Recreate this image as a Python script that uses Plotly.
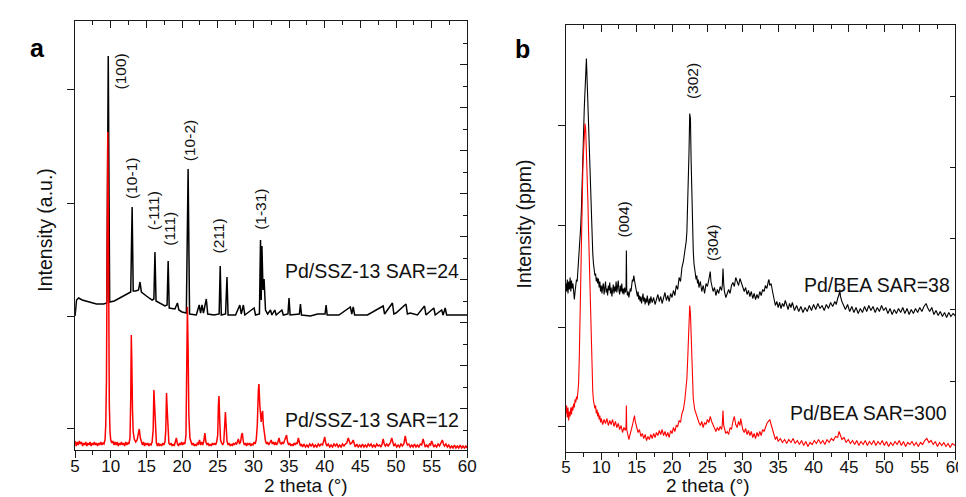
import plotly.graph_objects as go

W, H = 966, 497

# ---------------- Panel a : Pd/SSZ-13 ----------------
ssz24 = [(5.0,134),(5.2,150),(5.5,152),(6.0,150),(7.0,148),(8.0,146),(9.0,146),(9.45,147),(9.65,394),(9.85,148),
 (10.5,149),(11.0,151),(12.0,155),(12.8,158),(13.0,243),(13.15,159),(13.5,159),(13.9,160),(14.1,168),(14.3,158),
 (15.0,154),(15.8,150),(16.05,151),(16.2,198),(16.35,149),(17.0,146),(17.6,144),(17.9,145),(18.05,189),(18.2,142),
 (19.0,141),(19.35,147),(19.55,140),(20.0,138),(20.6,137),(20.85,281),(21.05,136),(22.0,135),(22.4,145),(22.6,137),
 (22.8,145),(23.0,137),(23.4,151),(23.6,136),(24.5,135),(25.2,136),(25.35,184),(25.5,135),(26.1,136),(26.3,173),
 (26.45,135),(27.5,135),(28.1,145),(28.3,136),(28.6,145),(28.8,135),(30.1,142),(30.3,135),(30.85,136),(31.0,210),
 (31.1,150),(31.2,204),(31.35,160),(31.5,171),(31.7,140),(32.0,136),(32.4,140),(32.6,135),(33.0,140),(33.2,135),
 (34.0,140),(34.2,135),(34.85,136),(35.0,152),(35.15,135),(36.45,136),(36.6,146),(36.75,135),(38.0,134),(39.0,136),
 (40.05,136),(40.2,145),(40.35,135),(42.0,135),(43.6,143),(43.8,136),(44.0,143),(44.2,135),(46.0,135),(48.2,144),
 (48.4,136),(49.5,147),(49.7,136),(50.0,137),(51.4,146),(51.6,136),(52.0,137),(53.0,135),(54.0,144),(54.2,135),
 (55.3,142),(55.5,135),(56.4,140),(56.6,135),(56.9,142),(57.1,135),(58.0,135),(60.0,135)]

ssz12 = [(5.0,9),(5.15,4),(5.3,8),(5.45,5),(5.6,9),(5.75,6),(5.9,8),(6.05,4),(6.2,7),(6.35,5),(6.5,8),(6.65,4),(6.8,7),
 (6.95,5),(7.1,8),(7.25,4),(7.4,7),(7.55,5),(7.7,8),(7.85,5),(8.0,7),(8.15,4),(8.3,7),(8.45,5),(8.6,8),(8.75,5),(8.9,7),
 (9.05,6),(9.2,10),(9.3,25),(9.4,70),(9.5,180),(9.58,318),(9.65,250),(9.72,120),(9.8,45),(9.9,18),(10.0,10),(10.15,7),
 (10.3,9),(10.45,5),(10.6,8),(10.75,5),(10.9,8),(11.05,4),(11.2,7),(11.35,5),(11.5,8),(11.65,5),(11.8,7),(11.95,4),
 (12.1,8),(12.25,5),(12.4,7),(12.55,6),(12.7,12),(12.8,50),(12.88,115),(12.95,90),(13.05,40),(13.15,18),(13.3,11),
 (13.5,8),(13.7,10),(13.85,15),(14.0,21),(14.15,12),(14.3,7),(14.45,5),(14.6,8),(14.75,4),(14.9,7),(15.05,5),(15.2,7),
 (15.35,4),(15.5,6),(15.65,5),(15.8,8),(15.95,20),(16.05,60),(16.15,45),(16.25,15),(16.4,7),(16.55,4),(16.7,7),
 (16.85,4),(17.0,6),(17.15,4),(17.3,7),(17.45,5),(17.6,8),(17.72,20),(17.82,57),(17.92,40),(18.02,14),(18.15,7),
 (18.3,5),(18.45,7),(18.6,4),(18.75,6),(18.9,4),(19.05,7),(19.2,12),(19.35,6),(19.5,4),(19.65,7),(19.8,5),(19.95,8),
 (20.1,5),(20.25,7),(20.4,6),(20.55,15),(20.65,70),(20.75,143),(20.85,100),(20.95,35),(21.1,12),(21.25,7),(21.4,5),
 (21.55,7),(21.7,4),(21.85,6),(22.0,4),(22.15,7),(22.3,6),(22.45,10),(22.6,5),(22.75,8),(22.9,5),(23.05,9),(23.2,17),
 (23.35,8),(23.5,5),(23.65,7),(23.8,4),(23.95,6),(24.1,4),(24.25,7),(24.4,5),(24.55,7),(24.7,5),(24.85,8),(25.0,15),
 (25.1,45),(25.18,54),(25.28,30),(25.4,10),(25.55,7),(25.7,5),(25.85,8),(25.98,20),(26.08,38),(26.18,25),(26.3,9),
 (26.45,5),(26.6,7),(26.75,4),(26.9,6),(27.05,4),(27.2,7),(27.35,5),(27.5,7),(27.65,6),(27.8,9),(27.9,11),(28.05,6),
 (28.2,8),(28.35,15),(28.45,17),(28.6,8),(28.75,5),(28.9,7),(29.05,4),(29.2,7),(29.35,5),(29.5,7),(29.65,4),(29.8,6),
 (29.95,5),(30.1,8),(30.25,6),(30.4,10),(30.55,25),(30.7,60),(30.78,66),(30.9,45),(31.0,30),(31.1,28),(31.2,36),
 (31.3,39),(31.4,25),(31.55,14),(31.7,9),(31.85,6),(32.0,8),(32.15,5),(32.3,7),(32.5,10),(32.65,6),(32.8,8),(32.95,5),
 (33.1,8),(33.25,5),(33.4,7),(33.6,12),(33.75,7),(33.9,6),(34.05,8),(34.2,6),(34.35,9),(34.5,12),(34.65,15),(34.8,8),
 (34.95,5),(35.1,7),(35.25,4),(35.4,6),(35.55,4),(35.7,7),(35.85,5),(36.0,7),(36.15,6),(36.3,12),(36.45,7),(36.6,4),
 (36.75,6),(36.9,3),(37.1,6),(37.3,3),(37.5,5),(37.7,3),(37.9,6),(38.1,4),(38.3,6),(38.5,3),(38.7,5),(38.9,3),(39.1,6),
 (39.3,4),(39.5,6),(39.7,5),(39.9,10),(40.0,13),(40.15,7),(40.3,4),(40.5,6),(40.7,3),(40.9,5),(41.1,3),(41.3,6),(41.5,4),
 (41.7,6),(41.9,3),(42.1,5),(42.3,3),(42.5,6),(42.7,4),(42.9,6),(43.1,7),(43.3,12),(43.45,8),(43.6,6),(43.8,7),(44.0,10),
 (44.15,6),(44.3,3),(44.5,6),(44.7,3),(44.9,5),(45.1,3),(45.3,6),(45.5,3),(45.7,5),(45.9,3),(46.1,6),(46.3,4),(46.5,6),
 (46.7,3),(46.9,5),(47.1,3),(47.3,6),(47.5,4),(47.7,5),(47.9,3),(48.05,6),(48.2,11),(48.35,6),(48.5,4),(48.7,6),(48.9,4),
 (49.1,6),(49.25,8),(49.4,12),(49.55,7),(49.7,4),(49.9,6),(50.1,3),(50.3,5),(50.5,3),(50.7,6),(50.9,4),(51.1,6),
 (51.3,14),(51.45,8),(51.6,5),(51.8,6),(52.0,3),(52.2,5),(52.4,3),(52.6,6),(52.8,3),(53.0,5),(53.2,3),(53.4,6),(53.6,5),
 (53.8,11),(53.95,6),(54.1,3),(54.3,5),(54.5,3),(54.7,6),(54.85,5),(55.0,9),(55.15,5),(55.3,3),(55.5,5),(55.7,3),
 (55.9,6),(56.1,4),(56.3,7),(56.5,10),(56.65,6),(56.8,4),(57.0,6),(57.2,3),(57.4,5),(57.6,2),(57.8,4),(58.0,2),(58.2,5),
 (58.4,2),(58.6,4),(58.8,2),(59.0,5),(59.2,2),(59.4,4),(59.6,2),(59.8,4),(60.0,2)]

ssz_peak_labels = ["(100)", "(10-1)", "(-111)", "(111)", "(10-2)", "(211)", "(1-31)"]
ssz_peak_label_x = [11.5, 12.97, 16.1, 18.27, 21.0, 25.25, 31.05]
ssz_peak_label_y = [379, 272, 239, 221, 309, 214, 241]

# ---------------- Panel b : Pd/BEA ----------------
bea38 = [(5.0,168),(5.1,160),(5.2,172),(5.3,158),(5.4,170),(5.5,162),(5.6,174),(5.7,160),(5.8,171),(5.9,163),(6.0,168),
 (6.1,157),(6.2,152),(6.3,160),(6.4,166),(6.5,172),(6.6,170),(6.7,180),(6.8,188),(6.9,200),(7.0,213),(7.1,225),(7.2,243),
 (7.3,262),(7.4,290),(7.5,318),(7.6,343),(7.7,368),(7.8,384),(7.9,393),(8.0,372),(8.1,350),(8.2,322),(8.3,296),(8.4,272),
 (8.5,250),(8.6,228),(8.7,210),(8.8,198),(8.9,188),(9.0,181),(9.1,176),(9.2,178),(9.3,170),(9.4,174),(9.5,168),(9.6,173),
 (9.7,164),(9.8,170),(9.9,160),(10.0,166),(10.1,158),(10.2,165),(10.3,168),(10.4,157),(10.5,164),(10.6,170),(10.7,159),
 (10.8,163),(10.9,156),(11.0,166),(11.1,161),(11.2,169),(11.3,158),(11.4,164),(11.5,155),(11.6,162),(11.7,167),(11.8,158),
 (11.9,165),(12.0,160),(12.1,170),(12.2,159),(12.3,166),(12.4,171),(12.5,161),(12.6,157),(12.7,166),(12.8,160),(12.9,168),
 (13.0,158),(13.1,163),(13.2,157),(13.3,164),(13.4,159),(13.5,163),(13.55,201),(13.6,162),(13.7,156),(13.8,160),(13.9,154),
 (14.0,158),(14.1,163),(14.2,160),(14.3,168),(14.4,172),(14.5,170),(14.6,176),(14.7,171),(14.8,166),(14.9,162),(15.0,158),
 (15.1,155),(15.2,160),(15.3,152),(15.4,156),(15.5,150),(15.6,155),(15.7,148),(15.8,153),(15.9,158),(16.0,150),(16.1,154),
 (16.2,147),(16.3,153),(16.4,149),(16.5,156),(16.6,150),(16.7,146),(16.8,153),(16.9,148),(17.0,155),(17.2,149),(17.4,154),
 (17.6,147),(17.8,152),(18.0,157),(18.2,150),(18.4,155),(18.6,148),(18.8,154),(19.0,159),(19.2,151),(19.4,156),(19.6,150),
 (19.8,158),(20.0,154),(20.2,161),(20.4,156),(20.6,166),(20.8,162),(21.0,174),(21.2,170),(21.4,184),(21.6,190),(21.8,198),
 (22.0,210),(22.1,220),(22.2,240),(22.3,262),(22.4,300),(22.5,338),(22.6,333),(22.7,290),(22.8,250),(22.9,220),(23.0,200),
 (23.1,188),(23.2,182),(23.3,176),(23.4,172),(23.5,176),(23.6,168),(23.7,172),(23.8,164),(24.0,170),(24.2,160),(24.4,166),
 (24.6,158),(24.8,168),(25.0,165),(25.2,172),(25.4,180),(25.5,170),(25.6,166),(25.8,160),(26.0,164),(26.2,156),(26.4,162),
 (26.6,158),(26.8,165),(27.0,161),(27.1,166),(27.2,183),(27.3,168),(27.4,160),(27.6,154),(27.8,158),(28.0,162),(28.2,158),
 (28.4,166),(28.6,169),(28.8,165),(29.0,174),(29.2,170),(29.4,166),(29.6,173),(29.8,168),(30.0,163),(30.2,160),(30.4,164),
 (30.6,157),(30.8,161),(31.0,155),(31.2,160),(31.4,153),(31.6,158),(31.8,152),(32.0,157),(32.2,153),(32.4,160),(32.6,156),
 (32.8,162),(33.0,160),(33.2,166),(33.4,163),(33.6,170),(33.7,172),(33.8,166),(34.0,168),(34.2,160),(34.4,152),(34.6,146),
 (34.8,150),(35.0,144),(35.2,149),(35.4,143),(35.6,148),(35.8,145),(36.0,151),(36.2,146),(36.4,142),(36.6,148),(36.8,144),
 (37.0,149),(37.3,141),(37.6,146),(37.9,140),(38.2,145),(38.5,139),(38.8,144),(39.1,140),(39.4,146),(39.7,141),(40.0,147),
 (40.3,142),(40.6,148),(40.9,143),(41.2,146),(41.5,141),(41.8,147),(42.1,143),(42.4,149),(42.7,145),(43.0,150),(43.2,147),
 (43.4,153),(43.6,157),(43.7,162),(43.8,155),(44.0,150),(44.2,146),(44.5,142),(44.8,147),(45.1,140),(45.4,145),(45.7,139),
 (46.0,144),(46.3,138),(46.6,143),(46.9,139),(47.2,145),(47.5,140),(47.8,146),(48.1,141),(48.4,145),(48.7,139),(49.0,144),
 (49.3,140),(49.6,146),(49.9,141),(50.2,144),(50.5,138),(50.8,143),(51.1,137),(51.4,142),(51.7,138),(52.0,143),(52.3,139),
 (52.6,144),(52.9,138),(53.2,143),(53.5,137),(53.8,142),(54.1,138),(54.4,143),(54.7,139),(55.0,144),(55.3,140),(55.6,145),
 (55.9,148),(56.1,144),(56.4,140),(56.7,144),(57.0,137),(57.3,141),(57.6,136),(57.9,140),(58.2,135),(58.5,139),(58.8,134),
 (59.1,139),(59.4,135),(59.7,138),(60.0,136)]

bea300 = [(5.0,38),(5.1,46),(5.2,34),(5.3,44),(5.4,31),(5.5,40),(5.6,35),(5.7,44),(5.8,37),(5.9,45),(6.0,41),(6.1,48),
 (6.2,44),(6.3,52),(6.4,49),(6.5,55),(6.6,52),(6.7,60),(6.8,68),(6.9,95),(7.0,140),(7.1,190),(7.2,225),(7.3,255),(7.4,283),
 (7.5,300),(7.6,318),(7.7,328),(7.8,322),(7.9,303),(8.0,280),(8.1,253),(8.2,222),(8.3,193),(8.4,158),(8.5,123),(8.6,95),
 (8.7,73),(8.8,60),(8.9,51),(9.0,47),(9.1,43),(9.2,46),(9.3,38),(9.4,42),(9.5,35),(9.6,39),(9.7,32),(9.8,36),(9.9,29),
 (10.0,33),(10.2,27),(10.4,32),(10.6,28),(10.8,33),(11.0,26),(11.2,31),(11.4,27),(11.6,32),(11.8,25),(12.0,30),(12.2,24),
 (12.4,28),(12.6,22),(12.8,26),(13.0,19),(13.2,24),(13.4,21),(13.5,25),(13.55,46),(13.6,22),(13.7,18),(13.8,14),(13.9,12),
 (14.0,15),(14.2,20),(14.4,26),(14.6,33),(14.7,36),(14.8,30),(15.0,24),(15.2,19),(15.4,22),(15.6,15),(15.8,18),(16.0,13),
 (16.2,17),(16.4,11),(16.6,15),(16.8,12),(17.0,17),(17.2,13),(17.4,18),(17.6,14),(17.8,19),(18.0,16),(18.2,21),(18.4,17),
 (18.6,22),(18.8,16),(19.0,20),(19.2,15),(19.4,19),(19.6,14),(19.8,21),(20.0,18),(20.2,24),(20.4,20),(20.6,26),(20.8,25),
 (21.0,31),(21.2,29),(21.4,38),(21.6,42),(21.8,51),(22.0,62),(22.1,73),(22.2,90),(22.3,113),(22.4,135),(22.5,146),
 (22.6,138),(22.7,110),(22.8,83),(22.9,66),(23.0,53),(23.2,42),(23.4,37),(23.6,33),(23.8,29),(24.0,26),(24.2,30),(24.4,24),
 (24.6,29),(24.8,27),(25.0,32),(25.2,29),(25.4,35),(25.6,30),(25.8,26),(26.0,22),(26.2,20),(26.4,24),(26.6,21),(26.8,25),
 (27.0,22),(27.1,27),(27.2,41),(27.3,26),(27.4,22),(27.6,18),(27.8,20),(28.0,17),(28.2,24),(28.4,22),(28.6,30),(28.8,35),
 (29.0,27),(29.2,24),(29.4,30),(29.6,26),(29.7,33),(29.8,28),(30.0,22),(30.2,19),(30.4,23),(30.6,17),(30.8,21),(31.0,16),
 (31.2,20),(31.4,14),(31.6,18),(31.8,13),(32.0,19),(32.2,15),(32.4,20),(32.6,16),(32.8,22),(33.0,20),(33.2,25),(33.4,28),
 (33.6,30),(33.8,32),(34.0,27),(34.2,21),(34.4,15),(34.6,12),(34.8,15),(35.0,10),(35.3,13),(35.6,9),(35.9,12),(36.2,8),
 (36.5,12),(36.8,9),(37.1,13),(37.4,8),(37.7,11),(38.0,7),(38.3,11),(38.6,6),(38.9,10),(39.2,5),(39.5,9),(39.8,7),(40.1,11),
 (40.4,8),(40.7,12),(41.0,8),(41.3,11),(41.6,7),(41.9,12),(42.2,9),(42.5,13),(42.8,11),(43.1,15),(43.4,14),(43.6,20),
 (43.8,16),(44.0,12),(44.3,14),(44.6,9),(44.9,12),(45.2,8),(45.5,11),(45.8,7),(46.1,11),(46.4,6),(46.7,10),(47.0,7),
 (47.3,11),(47.6,6),(47.9,10),(48.2,7),(48.5,11),(48.8,6),(49.1,10),(49.4,7),(49.7,11),(50.0,6),(50.3,10),(50.6,5),(50.9,9),
 (51.2,6),(51.5,10),(51.8,7),(52.1,11),(52.4,6),(52.7,10),(53.0,5),(53.3,9),(53.6,7),(53.9,10),(54.2,6),(54.5,9),(54.8,5),
 (55.1,9),(55.4,7),(55.7,11),(56.0,13),(56.3,9),(56.6,11),(56.9,7),(57.2,10),(57.5,5),(57.8,9),(58.1,6),(58.4,9),(58.7,5),
 (59.0,8),(59.3,4),(59.6,8),(60.0,6)]

bea_peak_labels = ["(004)", "(302)", "(304)"]
bea_peak_label_x = [13.2, 22.9, 25.7]
bea_peak_label_y = [232, 370, 209]

x_ticks = [5, 10, 15, 20, 25, 30, 35, 40, 45, 50, 55, 60]
series_names = ["Pd/SSZ-13 SAR=24", "Pd/SSZ-13 SAR=12", "Pd/BEA SAR=38", "Pd/BEA SAR=300"]

FONT = "Arial, Liberation Sans, sans-serif"
AX = "#1a1a1a"

def xs(p): return [a for a, b in p]
def ys(p): return [b for a, b in p]

fig = go.Figure()
# panel a
fig.add_trace(go.Scatter(x=xs(ssz24), y=ys(ssz24), mode="lines", line=dict(color="#000000", width=1.5),
                         xaxis="x", yaxis="y", showlegend=False))
fig.add_trace(go.Scatter(x=xs(ssz12), y=ys(ssz12), mode="lines", line=dict(color="#ff0000", width=1.5),
                         xaxis="x", yaxis="y", showlegend=False))
# panel b
fig.add_trace(go.Scatter(x=xs(bea38), y=ys(bea38), mode="lines", line=dict(color="#000000", width=1.1),
                         xaxis="x3", yaxis="y3", showlegend=False))
fig.add_trace(go.Scatter(x=xs(bea300), y=ys(bea300), mode="lines", line=dict(color="#ff0000", width=1.1),
                         xaxis="x3", yaxis="y3", showlegend=False))
# empty traces so that the extra frame / tick axes are drawn
for xa, ya in [("x2", "y2"), ("x4", "y4"), ("x5", "y"), ("x6", "y3")]:
    fig.add_trace(go.Scatter(x=[None], y=[None], mode="lines", xaxis=xa, yaxis=ya, showlegend=False, hoverinfo="skip"))

xa_dom = [63/W, 461/W]
ya_dom = [1-442/H, 1-13.3/H]
xb_dom = [561/W, 956/W]
yb_dom = [1-443.5/H, 1-17.3/H]
ya_rng = [0, 428.7]
yb_rng = [0, 426.2]

def label_x(dom, anchor):
    # bottom axis carrying the tick labels only
    return dict(domain=dom, range=[5, 60], anchor=anchor, showgrid=False, zeroline=False,
                showline=True, linecolor=AX, linewidth=1.3, ticks="", tickvals=x_ticks,
                tickfont=dict(family=FONT, size=17, color="#111"), ticklabelstandoff=0)

def tick_x(dom, over, anchor):
    # bottom axis carrying the outward ticks only
    return dict(domain=dom, range=[5, 60], overlaying=over, anchor=anchor, side="bottom", showgrid=False,
                zeroline=False, showline=False, ticks="outside", ticklen=7, tickwidth=1.3, tickcolor=AX,
                tickvals=x_ticks, showticklabels=False,
                minor=dict(ticks="outside", ticklen=4, tickwidth=1.2, tickcolor=AX, dtick=2.5, tick0=5, showgrid=False))

def top_x(dom, over, anchor):
    return dict(domain=dom, range=[5, 60], overlaying=over, anchor=anchor, side="top", showgrid=False,
                zeroline=False, showline=True, linecolor=AX, linewidth=1.3, ticks="inside", ticklen=7,
                tickwidth=1.3, tickcolor=AX, tickvals=x_ticks, showticklabels=False,
                minor=dict(ticks="inside", ticklen=4, tickwidth=1.2, tickcolor=AX, dtick=2.5, tick0=5, showgrid=False))

layout = dict(
    width=W, height=H, margin=dict(l=0, r=0, t=0, b=0),
    paper_bgcolor="white", plot_bgcolor="white",
    xaxis=label_x(xa_dom, "y"),
    xaxis2=top_x(xa_dom, "x", "y2"),
    xaxis5=tick_x(xa_dom, "x", "y"),
    xaxis3=label_x(xb_dom, "y3"),
    xaxis4=top_x(xb_dom, "x3", "y4"),
    xaxis6=tick_x(xb_dom, "x3", "y3"),
    yaxis=dict(domain=ya_dom, range=ya_rng, anchor="x", showgrid=False, zeroline=False, showline=True,
               linecolor=AX, linewidth=1.3, ticks="outside", ticklen=7, tickwidth=1.3, tickcolor=AX,
               tickvals=[361, 247, 134, 22], showticklabels=False),
    yaxis2=dict(domain=ya_dom, range=ya_rng, overlaying="y", side="right", anchor="x2", showgrid=False,
                zeroline=False, showline=True, linecolor=AX, linewidth=1.3, ticks="inside", ticklen=7,
                tickwidth=1.3, tickcolor=AX, showticklabels=False,
                tickvals=[41.5, 84.5, 127.5, 170.5, 213.5, 256.5, 299.5, 342.5, 385.5],
                minor=dict(ticks="inside", ticklen=4, tickwidth=1.2, tickcolor=AX,
                           tickvals=[20, 63, 106, 149, 192, 235, 278, 321, 364, 407], showgrid=False)),
    yaxis3=dict(domain=yb_dom, range=yb_rng, anchor="x3", showgrid=False, zeroline=False, showline=True,
                linecolor=AX, linewidth=1.3, ticks="outside", ticklen=7, tickwidth=1.3, tickcolor=AX,
                tickvals=[326.5, 226.5, 124.5, 25.5], showticklabels=False),
    yaxis4=dict(domain=yb_dom, range=yb_rng, overlaying="y3", side="right", anchor="x4", showgrid=False,
                zeroline=False, showline=True, linecolor=AX, linewidth=1.3, ticks="inside", ticklen=5,
                tickwidth=1.2, tickcolor=AX, showticklabels=False,
                tickvals=[355.5, 284.5, 213.5, 142.5, 70.5]),
)
fig.update_layout(**layout)

ann = []
for t, x, y in zip(ssz_peak_labels, ssz_peak_label_x, ssz_peak_label_y):
    ann.append(dict(text=t, x=x, y=y, xref="x", yref="y", textangle=-90, showarrow=False,
                    font=dict(family=FONT, size=15.5, color="#111")))
for t, x, y in zip(bea_peak_labels, bea_peak_label_x, bea_peak_label_y):
    ann.append(dict(text=t, x=x, y=y, xref="x3", yref="y3", textangle=-90, showarrow=False,
                    font=dict(family=FONT, size=15.5, color="#111")))

series_pos = [(455, 263), (455, 412), (953, 277), (950, 405)]
for t, (px, py) in zip(series_names, series_pos):
    ann.append(dict(text=t, x=px/W, y=1-py/H, xref="paper", yref="paper", xanchor="right", yanchor="middle",
                    showarrow=False, font=dict(family=FONT, size=19.5, color="#111")))

# axis titles
ann.append(dict(text="2 theta (°)", x=253/W, y=1-490/H, xref="paper", yref="paper",
                showarrow=False, font=dict(family=FONT, size=19, color="#111")))
ann.append(dict(text="2 theta (°)", x=750/W, y=1-490/H, xref="paper", yref="paper",
                showarrow=False, font=dict(family=FONT, size=19, color="#111")))
ann.append(dict(text="Intensity (a.u.)", x=19/W, y=1-222/H, xref="paper", yref="paper", textangle=-90,
                showarrow=False, font=dict(family=FONT, size=19.5, color="#111")))
ann.append(dict(text="Intensity (ppm)", x=519/W, y=1-216/H, xref="paper", yref="paper", textangle=-90,
                showarrow=False, font=dict(family=FONT, size=19.5, color="#111")))
# panel letters
ann.append(dict(text="<b>a</b>", x=15/W, y=1-24/H, xref="paper", yref="paper", showarrow=False,
                font=dict(family=FONT, size=25, color="#000")))
ann.append(dict(text="<b>b</b>", x=517/W, y=1-25/H, xref="paper", yref="paper", showarrow=False,
                font=dict(family=FONT, size=25, color="#000")))
fig.update_layout(annotations=ann)

fig.write_html("out.html")
